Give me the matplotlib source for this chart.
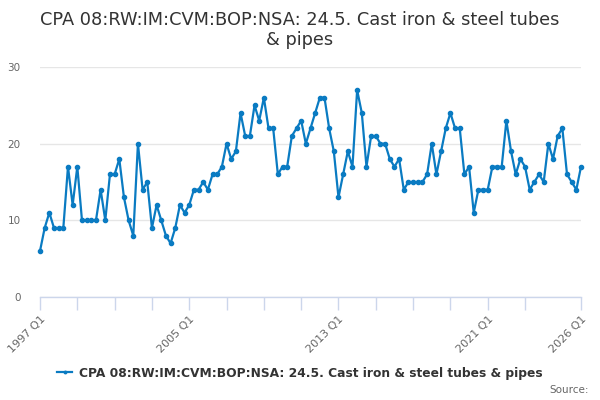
import matplotlib
matplotlib.use("Agg")
import matplotlib.pyplot as plt

values = [
    6, 9, 11, 9,
    9, 9, 17, 12,
    17, 10, 10, 10,
    10, 14, 10, 16,
    16, 18, 13, 10,
    8, 20, 14, 15,
    9, 12, 10, 8,
    7, 9, 12, 11,
    12, 14, 14, 15,
    14, 16, 16, 17,
    20, 18, 19, 24,
    21, 21, 25, 23,
    26, 22, 22, 16,
    17, 17, 21, 22,
    23, 20, 22, 24,
    26, 26, 22, 19,
    13, 16, 19, 17,
    27, 24, 17, 21,
    21, 20, 20, 18,
    17, 18, 14, 15,
    15, 15, 15, 16,
    20, 16, 19, 22,
    24, 22, 22, 16,
    17, 11, 14, 14,
    14, 17, 17, 17,
    23, 19, 16, 18,
    17, 14, 15, 16,
    15, 20, 18, 21,
    22, 16, 15, 14,
    17,
]
start_year = 1997
labels = [f"{start_year + i // 4} Q{i % 4 + 1}" for i in range(len(values))]
tick_idx = list(range(0, 105, 8)) + [len(values) - 1]
label_years = ["1997 Q1", "2005 Q1", "2013 Q1", "2021 Q1", "2026 Q1"]
yticks = [0, 10, 20, 30]
title = "CPA 08:RW:IM:CVM:BOP:NSA: 24.5. Cast iron & steel tubes\n& pipes"
series_name = "CPA 08:RW:IM:CVM:BOP:NSA: 24.5. Cast iron & steel tubes & pipes"

color = "#0a7bc2"
plt.rcParams['font.family'] = ['DejaVu Sans']

fig = plt.figure(figsize=(6, 4), dpi=100)
ax = fig.add_axes([40 / 600, 103 / 400, 541 / 600, 230 / 400])

x = list(range(len(values)))
line, = ax.plot(x, values, color=color, lw=1.6, marker='o', ms=3, clip_on=False, zorder=3)

ax.set_xlim(0, len(values) - 1)
ax.set_ylim(0, 30)
ax.set_yticks(yticks)
ax.set_yticklabels([str(v) for v in yticks])
ax.tick_params(axis='y', length=0, pad=14, labelsize=7.5, labelcolor='#666666')
ax.grid(axis='y', color='#e6e6e6', lw=1)
ax.set_axisbelow(True)

ax.set_xticks(tick_idx)
ax.set_xticklabels([labels[i] if labels[i] in label_years else "" for i in tick_idx],
                   rotation=45, ha='right', va='top', rotation_mode='anchor')
ax.tick_params(axis='x', length=9, width=1, color='#ccd6eb', pad=3, labelsize=8, labelcolor='#666666')

for s in ['top', 'right', 'left']:
    ax.spines[s].set_visible(False)
ax.spines['bottom'].set_color('#ccd6eb')
ax.spines['bottom'].set_linewidth(1)

fig.text(0.5, 1 - 30 / 400, title, ha='center', va='center', fontsize=12.8,
         color='#333333', linespacing=1.2)

leg = fig.legend([line], [series_name], loc='center', bbox_to_anchor=(0.5, 1 - 373 / 400),
                 frameon=False, prop={'weight': 'bold', 'size': 8.8}, handlelength=1.2,
                 handletextpad=0.57, markerscale=0.6)
for t in leg.get_texts():
    t.set_color('#333333')

fig.text(589 / 600, 1 - 390 / 400, "Source:", ha='right', va='center', fontsize=7.5, color='#666666')

fig.savefig("out.png", dpi=100)
